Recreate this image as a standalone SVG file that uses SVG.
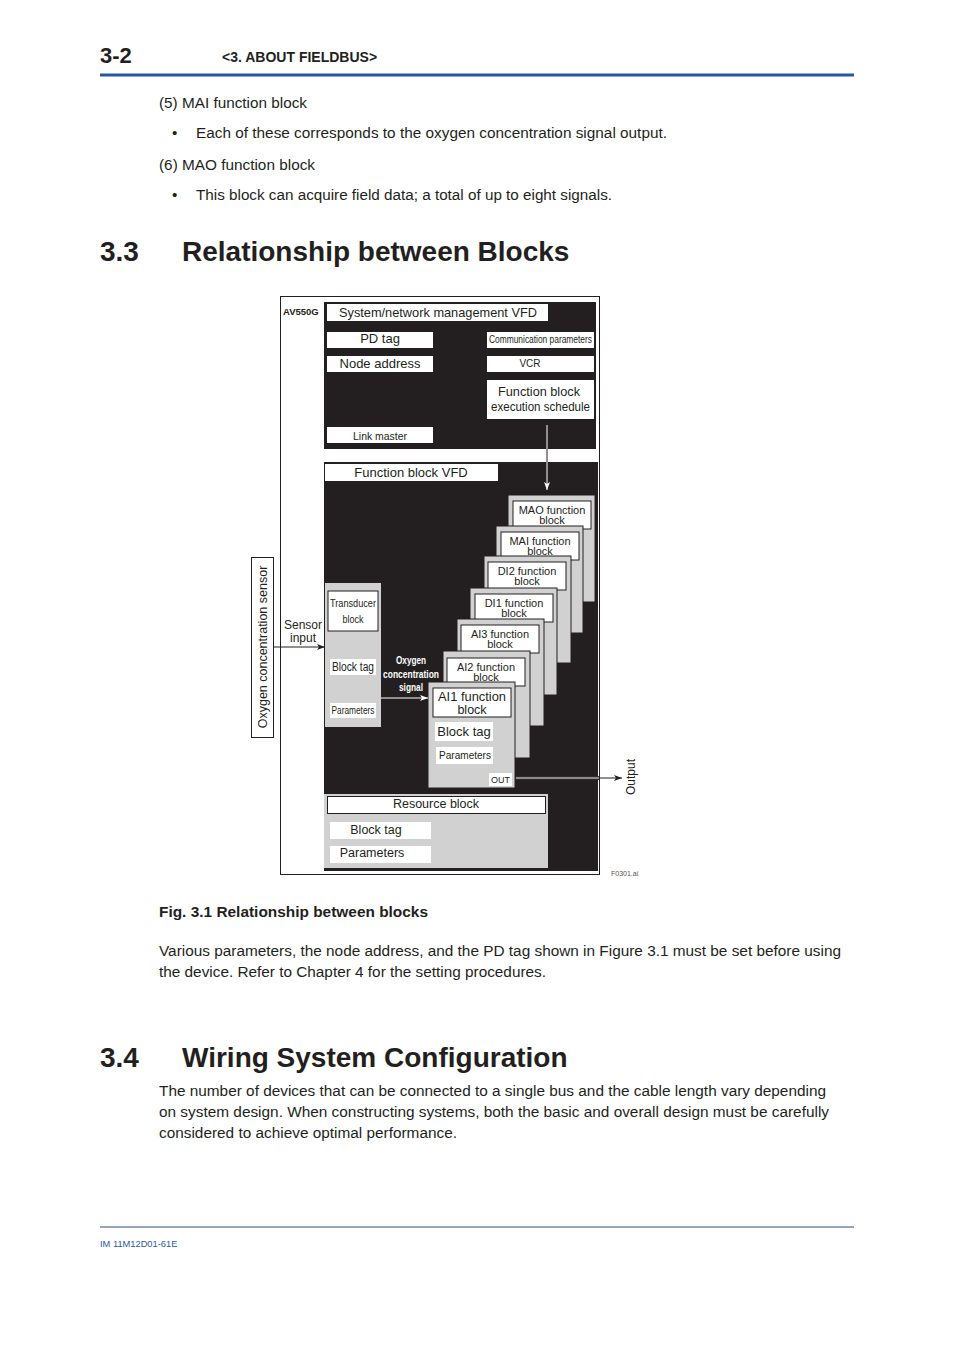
<svg xmlns="http://www.w3.org/2000/svg" width="954" height="1350" viewBox="0 0 954 1350">
<style>
text{font-family:"Liberation Sans",Arial,sans-serif;fill:#231f20}
.body{font-size:15.3px}
.h1{font-size:28px;font-weight:bold}
.dark{fill:#231f20}
.gray{fill:#d1d1d1}
.stk{fill:#d1d1d1;stroke:#231f20;stroke-width:1}
.wb{fill:#fff;stroke:#231f20;stroke-width:1}
.w{fill:#fff}
.c{text-anchor:middle}
.wt{fill:#fff}
.fb{font-size:11px}
</style>
<defs>
<marker id="ab" markerUnits="userSpaceOnUse" markerWidth="8" markerHeight="6" refX="8" refY="3" orient="auto"><path d="M0,0 L8,3 L0,6 L2,3 Z" fill="#231f20"/></marker>
<marker id="aw" markerUnits="userSpaceOnUse" markerWidth="8" markerHeight="6" refX="8" refY="3" orient="auto"><path d="M0,0 L8,3 L0,6 L2,3 Z" fill="#fff"/></marker>
</defs>
<rect width="954" height="1350" fill="#fff"/>
<g id="header">
<text x="100" y="63" style="font-size:22px;font-weight:bold">3-2</text>
<text x="222" y="62" style="font-size:14px;font-weight:bold">&lt;3. ABOUT FIELDBUS&gt;</text>
<rect x="100" y="73.5" width="754" height="3" fill="#2456a8"/>
</g>
<g id="intro">
<text class="body" x="159" y="108" textLength="148" lengthAdjust="spacingAndGlyphs">(5) MAI function block</text>
<text class="body" x="172" y="138">•</text>
<text class="body" x="196" y="138" textLength="471" lengthAdjust="spacingAndGlyphs">Each of these corresponds to the oxygen concentration signal output.</text>
<text class="body" x="159" y="170" textLength="156" lengthAdjust="spacingAndGlyphs">(6) MAO function block</text>
<text class="body" x="172" y="200">•</text>
<text class="body" x="196" y="200" textLength="416" lengthAdjust="spacingAndGlyphs">This block can acquire field data; a total of up to eight signals.</text>
<text class="h1" x="100" y="261">3.3</text>
<text class="h1" x="182" y="261">Relationship between Blocks</text>
</g>
<g id="frame">
<rect x="280.5" y="296.5" width="319" height="578" fill="none" stroke="#231f20" stroke-width="1"/>
<text x="283" y="315" style="font-size:9.5px;font-weight:bold">AV550G</text>
</g>
<g id="sysvfd">
<rect class="dark" x="324" y="302" width="272" height="147"/>
<rect class="w" x="327" y="304" width="221" height="17"/>
<text class="c" x="438" y="317" style="font-size:13px" textLength="198" lengthAdjust="spacingAndGlyphs">System/network management VFD</text>
</g>
<g id="pdtag"><rect class="w" x="327" y="332" width="106" height="16"/><text class="c" x="380" y="343" style="font-size:13px">PD tag</text></g>
<g id="nodeaddr"><rect class="w" x="327" y="356" width="106" height="16"/><text class="c" x="380" y="368" style="font-size:13px">Node address</text></g>
<g id="linkmaster"><rect class="w" x="327" y="427" width="106" height="16"/><text class="c" x="380" y="440" style="font-size:11px" textLength="54" lengthAdjust="spacingAndGlyphs">Link master</text></g>
<g id="commparams"><rect class="w" x="487" y="332" width="107" height="16"/><text class="c" x="540.5" y="343" style="font-size:10.5px" textLength="103" lengthAdjust="spacingAndGlyphs">Communication parameters</text></g>
<g id="vcr"><rect class="w" x="487" y="356" width="107" height="16"/><text class="c" x="530" y="367" style="font-size:10px">VCR</text></g>
<g id="fbschedule"><rect class="w" x="487" y="380" width="107" height="39"/><text class="c" x="539" y="396" style="font-size:12.5px" textLength="82" lengthAdjust="spacingAndGlyphs">Function block</text><text class="c" x="540.5" y="411" style="font-size:12.5px" textLength="99" lengthAdjust="spacingAndGlyphs">execution schedule</text></g>
<g id="fbvfd">
<rect class="dark" x="324" y="462" width="274" height="409"/>
<rect class="w" x="325" y="464" width="173" height="17"/>
<text class="c" x="411" y="477" style="font-size:13px">Function block VFD</text>
</g>
<g id="mao"><rect class="stk" x="508" y="495" width="87" height="107"/><rect class="wb" x="513" y="501" width="78" height="28"/><text class="c fb" x="552" y="514">MAO function</text><text class="c fb" x="552" y="524">block</text></g>
<g id="mai"><rect class="stk" x="496" y="526" width="87" height="107"/><rect class="wb" x="501" y="532" width="78" height="28"/><text class="c fb" x="540" y="545">MAI function</text><text class="c fb" x="540" y="555">block</text></g>
<g id="di2"><rect class="stk" x="484" y="556" width="87" height="107"/><rect class="wb" x="488" y="562" width="78" height="28"/><text class="c fb" x="527" y="575">DI2 function</text><text class="c fb" x="527" y="585">block</text></g>
<g id="di1"><rect class="stk" x="470" y="588" width="87" height="107"/><rect class="wb" x="475" y="594" width="78" height="28"/><text class="c fb" x="514" y="607">DI1 function</text><text class="c fb" x="514" y="617">block</text></g>
<g id="ai3"><rect class="stk" x="457" y="619" width="87" height="107"/><rect class="wb" x="461" y="625" width="78" height="28"/><text class="c fb" x="500" y="638">AI3 function</text><text class="c fb" x="500" y="648">block</text></g>
<g id="ai2"><rect class="stk" x="443" y="651" width="87" height="107"/><rect class="wb" x="447" y="658" width="78" height="28"/><text class="c fb" x="486" y="671">AI2 function</text><text class="c fb" x="486" y="681">block</text></g>
<g id="ai1">
<rect class="stk" x="428" y="682" width="87" height="106"/>
<rect class="wb" x="433" y="688" width="78" height="29"/>
<text class="c" x="472" y="701" style="font-size:12.5px" textLength="68" lengthAdjust="spacingAndGlyphs">AI1 function</text>
<text class="c" x="472" y="714" style="font-size:12.5px">block</text>
<rect class="w" x="435" y="722" width="58" height="19"/>
<text class="c" x="464" y="736" style="font-size:13px">Block tag</text>
<rect class="w" x="436" y="747" width="57" height="17"/>
<text class="c" x="465" y="759" style="font-size:11px" textLength="52" lengthAdjust="spacingAndGlyphs">Parameters</text>
<rect class="w" x="489" y="773" width="23" height="13"/>
<text class="c" x="500.5" y="783" style="font-size:9px">OUT</text>
</g>
<g id="transducer">
<rect class="gray" x="325" y="583" width="56" height="144"/>
<rect class="wb" x="328" y="591" width="50" height="40"/>
<text class="c" x="353" y="607" style="font-size:11.5px" textLength="46" lengthAdjust="spacingAndGlyphs">Transducer</text>
<text class="c" x="353" y="623" style="font-size:11.5px" textLength="21" lengthAdjust="spacingAndGlyphs">block</text>
<rect class="w" x="330" y="659" width="46" height="16"/>
<text class="c" x="353" y="671" style="font-size:12px" textLength="42" lengthAdjust="spacingAndGlyphs">Block tag</text>
<rect class="w" x="330" y="703" width="46" height="15"/>
<text class="c" x="353" y="714" style="font-size:10.5px" textLength="43" lengthAdjust="spacingAndGlyphs">Parameters</text>
</g>
<g id="resource">
<rect class="gray" x="324" y="794" width="224" height="74"/>
<rect class="wb" x="327.5" y="796.5" width="218" height="17"/>
<text class="c" x="436" y="808" style="font-size:12.5px">Resource block</text>
<rect class="w" x="330" y="822" width="101" height="17"/>
<text class="c" x="376" y="834" style="font-size:12.5px">Block tag</text>
<rect class="w" x="330" y="846" width="101" height="17"/>
<text class="c" x="372" y="857" style="font-size:12.5px">Parameters</text>
</g>
<g id="sensor">
<rect x="251.5" y="557.5" width="22" height="180" fill="#fff" stroke="#231f20" stroke-width="1"/>
<text class="c" transform="translate(266.5,647) rotate(-90)" x="0" y="0" style="font-size:12.5px">Oxygen concentration sensor</text>
</g>
<g id="labels">
<text class="c" x="303" y="629" style="font-size:12px">Sensor</text>
<text class="c" x="303" y="642" style="font-size:12px">input</text>
<text class="c wt" x="411" y="664" style="font-size:10px;font-weight:bold" textLength="30" lengthAdjust="spacingAndGlyphs">Oxygen</text>
<text class="c wt" x="411" y="678" style="font-size:10px;font-weight:bold" textLength="56" lengthAdjust="spacingAndGlyphs">concentration</text>
<text class="c wt" x="411" y="691" style="font-size:10px;font-weight:bold" textLength="24" lengthAdjust="spacingAndGlyphs">signal</text>
<text class="c" transform="translate(635,777) rotate(-90)" x="0" y="0" style="font-size:12px">Output</text>
<text x="611" y="876" style="font-size:7px;fill:#555">F0301.ai</text>
</g>
<g id="connectors">
<line x1="547" y1="425" x2="547" y2="490" stroke="#fff" stroke-width="1" marker-end="url(#aw)"/>
<line x1="547" y1="449" x2="547" y2="462" stroke="#231f20" stroke-width="1"/>
<line x1="273" y1="647" x2="325" y2="647" stroke="#231f20" stroke-width="1" marker-end="url(#ab)"/>
<line x1="381" y1="698" x2="428" y2="698" stroke="#fff" stroke-width="1" marker-end="url(#aw)"/>
<rect x="515.5" y="776.5" width="84" height="3" fill="#8a8a8a" stroke="#231f20" stroke-width="0.8"/>
<line x1="599" y1="778" x2="622" y2="778" stroke="#231f20" stroke-width="1" marker-end="url(#ab)"/>
</g>
<g id="text2">
<text x="159" y="917" style="font-size:15px;font-weight:bold" textLength="269" lengthAdjust="spacingAndGlyphs">Fig. 3.1 Relationship between blocks</text>
<text class="body" x="159" y="956" textLength="682" lengthAdjust="spacingAndGlyphs">Various parameters, the node address, and the PD tag shown in Figure 3.1 must be set before using</text>
<text class="body" x="159" y="977" textLength="387" lengthAdjust="spacingAndGlyphs">the device. Refer to Chapter 4 for the setting procedures.</text>
<text class="h1" x="100" y="1067">3.4</text>
<text class="h1" x="182" y="1067">Wiring System Configuration</text>
<text class="body" x="159" y="1096" textLength="667" lengthAdjust="spacingAndGlyphs">The number of devices that can be connected to a single bus and the cable length vary depending</text>
<text class="body" x="159" y="1117" textLength="670" lengthAdjust="spacingAndGlyphs">on system design. When constructing systems, both the basic and overall design must be carefully</text>
<text class="body" x="159" y="1138" textLength="298" lengthAdjust="spacingAndGlyphs">considered to achieve optimal performance.</text>
</g>
<g id="footer">
<rect x="100" y="1226.5" width="754" height="1" fill="#2b4c8c"/>
<text x="100" y="1247" style="font-size:9.3px;fill:#2a58a8">IM 11M12D01-61E</text>
</g>
</svg>
